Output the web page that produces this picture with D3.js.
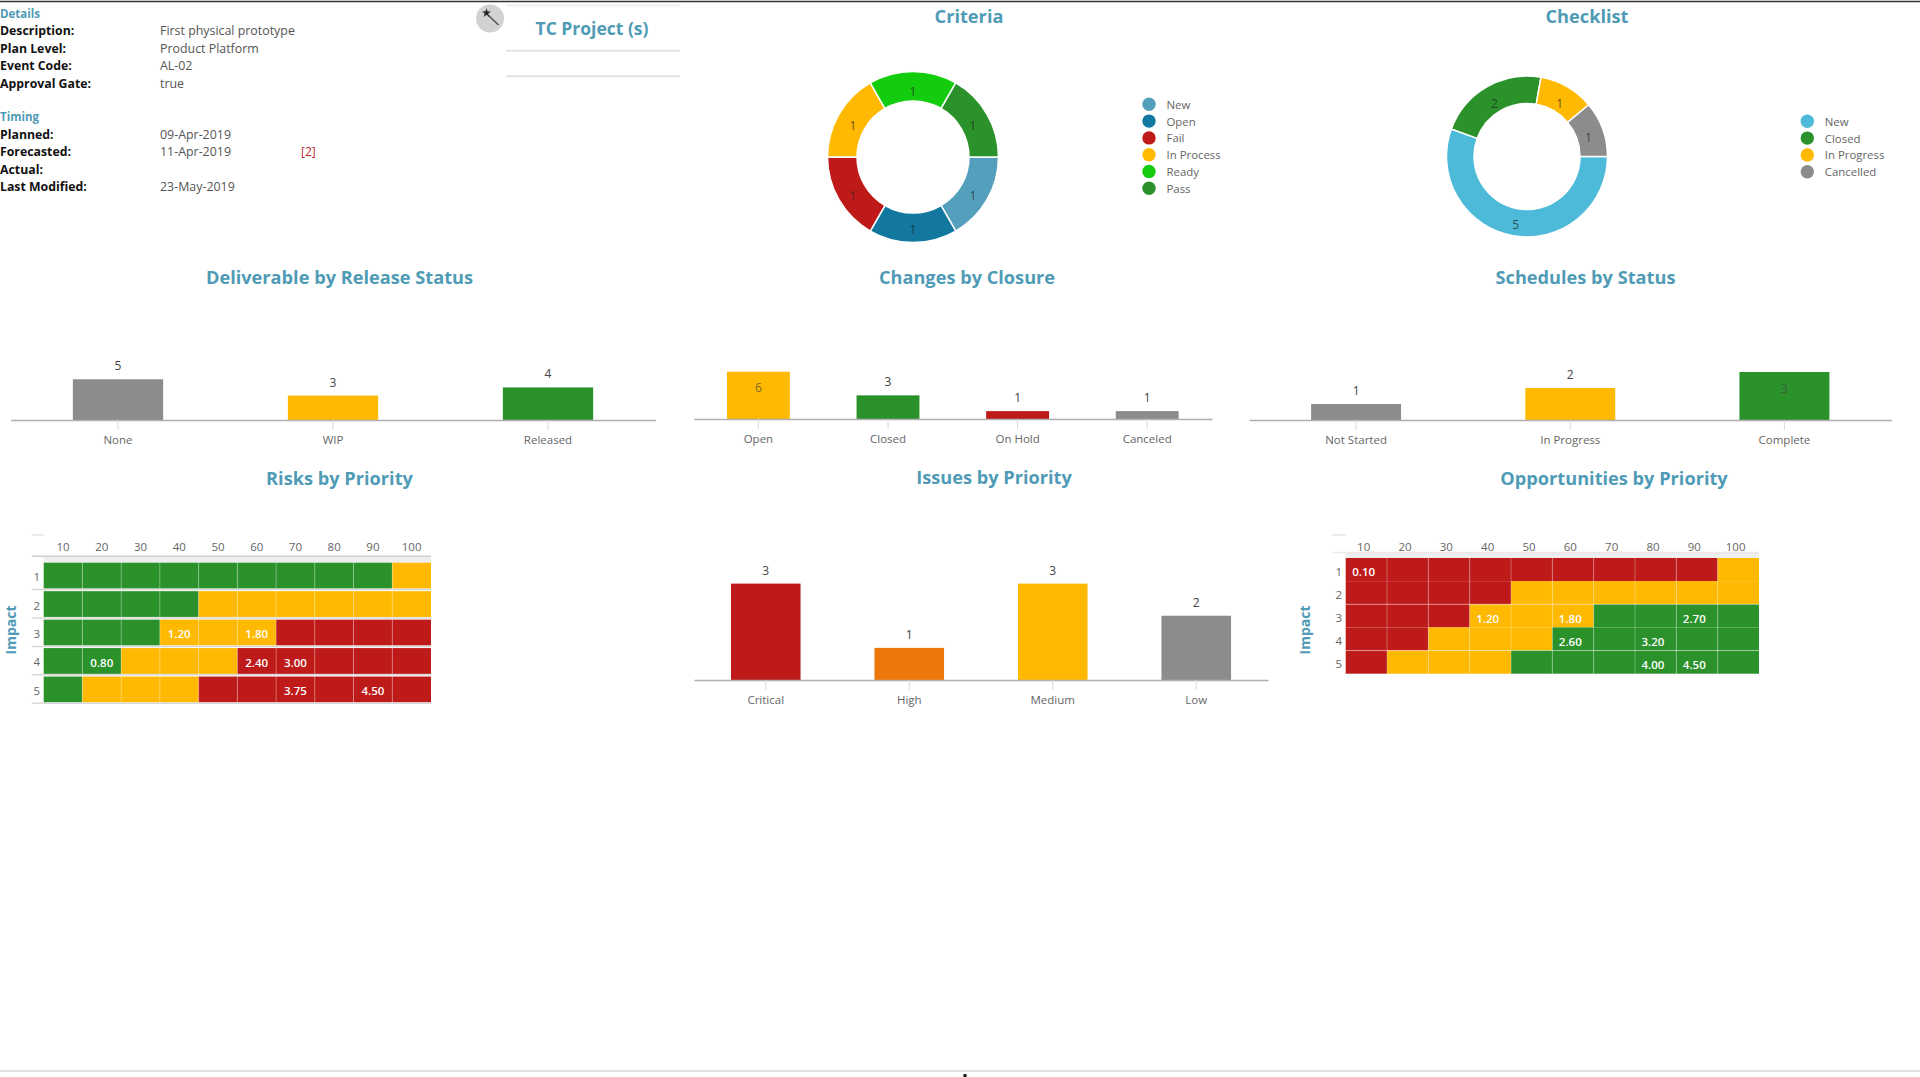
<!DOCTYPE html>
<html><head><meta charset="utf-8">
<script src="https://cdn.jsdelivr.net/npm/d3@7"></script>
<style>
html,body{margin:0;padding:0;background:#fff;overflow:hidden}
svg{display:block}
text{font-family:"Open Sans","Noto Sans",sans-serif}
</style></head><body>
<svg id="c" width="1920" height="1077"></svg>
<script>
// ---- data ----
const detailLabels = ["Description:","Plan Level:","Event Code:","Approval Gate:"];
const detailValues = ["First physical prototype","Product Platform","AL-02","true"];
const timingLabels = ["Planned:","Forecasted:","Actual:","Last Modified:"];
const timingValues = ["09-Apr-2019","11-Apr-2019","","23-May-2019"];
const criteriaCats = ["New","Open","Fail","In Process","Ready","Pass"];
const criteriaVals = [1,1,1,1,1,1];
const checklistCats = ["New","Closed","In Progress","Cancelled"];
const checklistVals = [5,2,1,1];
const deliverableCats = ["None","WIP","Released"];
const deliverableVals = [5,3,4];
const changesCats = ["Open","Closed","On Hold","Canceled"];
const changesVals = [6,3,1,1];
const scheduleCats = ["Not Started","In Progress","Complete"];
const scheduleVals = [1,2,3];
const issueCats = ["Critical","High","Medium","Low"];
const issueVals = [3,1,3,2];
const likelihoodTicks = [10,20,30,40,50,60,70,80,90,100];
const impactTicks = [1,2,3,4,5];
const riskGrid = [
 ["G","G","G","G","G","G","G","G","G","Y"],
 ["G","G","G","G","Y","Y","Y","Y","Y","Y"],
 ["G","G","G","Y","Y","Y","R","R","R","R"],
 ["G","G","Y","Y","Y","R","R","R","R","R"],
 ["G","Y","Y","Y","R","R","R","R","R","R"]];
const riskScores = [[3,40,"1.20"],[3,60,"1.80"],[4,20,"0.80"],[4,60,"2.40"],[4,70,"3.00"],[5,70,"3.75"],[5,90,"4.50"]];
const oppGrid = [
 ["R","R","R","R","R","R","R","R","R","Y"],
 ["R","R","R","R","Y","Y","Y","Y","Y","Y"],
 ["R","R","R","Y","Y","Y","G","G","G","G"],
 ["R","R","Y","Y","Y","G","G","G","G","G"],
 ["R","Y","Y","Y","G","G","G","G","G","G"]];
const oppScores = [[1,10,"0.10"],[3,40,"1.20"],[3,60,"1.80"],[3,90,"2.70"],[4,60,"2.60"],[4,80,"3.20"],[5,80,"4.00"],[5,90,"4.50"]];

// ---- palette ----
const TEAL="#4f9bb6", GREEN="#2b922b", AMBER="#ffb900", RED="#bf1a1a", GRAY="#8c8c8c", ORANGE="#ec770b";
const heat={G:GREEN,Y:AMBER,R:RED};
const criteriaColors=["#549fbc","#12789f",RED,AMBER,"#14cc0e",GREEN];
const checklistColors=["#4dbad9",GREEN,AMBER,GRAY];
const deliverableColors=[GRAY,AMBER,GREEN];
const changesColors=[AMBER,GREEN,RED,GRAY];
const scheduleColors=[GRAY,AMBER,GREEN];
const issueColors=[RED,ORANGE,AMBER,GRAY];

const svg=d3.select("#c");

// frame rules
svg.append("line").attr("x1",0).attr("x2",1920).attr("y1",1.5).attr("y2",1.5).attr("stroke","#333").attr("stroke-width",1.5);
svg.append("line").attr("x1",0).attr("x2",1920).attr("y1",1071).attr("y2",1071).attr("stroke","#d4d4d4").attr("stroke-width",1.5);
svg.append("circle").attr("cx",965).attr("cy",1075.5).attr("r",1.8).attr("fill","#222");

function title(t,x,y,size,weight){
  svg.append("text").attr("x",x).attr("y",y).attr("text-anchor","middle").attr("dominant-baseline","central")
   .attr("fill",TEAL).attr("font-size",size||18.2).attr("font-weight",weight||700).text(t);
}

// ---- detail block ----
function infoBlock(head,labels,values,y0){
  const step=17.55;
  svg.append("text").attr("x",0).attr("y",y0).attr("dominant-baseline","central").attr("fill",TEAL)
    .attr("font-size",11.5).attr("font-weight",700).text(head);
  labels.forEach((l,i)=>{
    const y=y0+step*(i+1);
    svg.append("text").attr("x",0).attr("y",y).attr("dominant-baseline","central").attr("fill","#111")
      .attr("font-size",12.3).attr("font-weight",700).text(l);
    svg.append("text").attr("x",160).attr("y",y).attr("dominant-baseline","central").attr("fill","#555")
      .attr("font-size",12.4).text(values[i]);
  });
}
infoBlock("Details",detailLabels,detailValues,13);
infoBlock("Timing",timingLabels,timingValues,116.5);
svg.append("text").attr("x",301).attr("y",151).attr("dominant-baseline","central").attr("fill","#c0272d").attr("font-size",12).text("[2]");

// wand button
svg.append("circle").attr("cx",490).attr("cy",18.5).attr("r",14).attr("fill","#d2d2d2");
svg.append("line").attr("x1",488.5).attr("y1",15.5).attr("x2",498.5).attr("y2",25).attr("stroke","#555").attr("stroke-width",1.6);
svg.append("path").attr("d",d3.symbol(d3.symbolStar,26)()).attr("transform","translate(486.5,13)").attr("fill","#222");

// TC panel
title("TC Project (s)",592,27.5,17.5);
[[5.5,"#efefef"],[50.7,"#e6e6e6"],[76.3,"#e0e0e0"]].forEach(([y,c])=>
  svg.append("line").attr("x1",506).attr("x2",680).attr("y1",y).attr("y2",y).attr("stroke",c).attr("stroke-width",2));

// ---- donuts ----
function donut(o){
  const g=svg.append("g").attr("transform",`translate(${o.cx},${o.cy})`);
  const pie=d3.pie().sort(null).startAngle(Math.PI/2).endAngle(Math.PI*2.5);
  const arc=d3.arc().innerRadius(o.r0).outerRadius(o.r1);
  const labelRadius=(o.r0+o.r1)/2-1.5;
  const labelArc=d3.arc().innerRadius(labelRadius).outerRadius(labelRadius);
  const arcs=pie(o.vals);
  g.selectAll("path").data(arcs).join("path").attr("d",arc).attr("fill",(d,i)=>o.colors[i])
    .attr("stroke","#fff").attr("stroke-width",1.5);
  g.selectAll("text").data(arcs).join("text").attr("transform",d=>{const p=labelArc.centroid(d);return `translate(${p[0]},${p[1]+3.5})`;})
    .attr("text-anchor","middle").attr("dominant-baseline","central").attr("font-size",12)
    .attr("fill","#222").attr("fill-opacity",.7).text(d=>d.data);
  const l=svg.append("g");
  const y=d3.scalePoint().domain(o.cats).range(o.legendY);
  o.cats.forEach((c,i)=>{
    l.append("circle").attr("cx",o.legendX).attr("cy",y(c)).attr("r",6.7).attr("fill",o.colors[i]);
    l.append("text").attr("x",o.legendX+17.5).attr("y",y(c)).attr("dominant-baseline","central")
      .attr("font-size",11.4).attr("fill","#666").text(c);
  });
}
title("Criteria",969,16);
donut({cx:913,cy:157,r0:56,r1:85.5,vals:criteriaVals,colors:criteriaColors,cats:criteriaCats,legendX:1149,legendY:[104.3,188.3]});
title("Checklist",1587,16);
donut({cx:1527,cy:156.5,r0:53,r1:80.5,vals:checklistVals,colors:checklistColors,cats:checklistCats,legendX:1807.3,legendY:[121.3,171.7]});

// ---- bars ----
function bars(o){
  const x=d3.scaleBand().domain(o.cats).range([o.x0,o.x1]).paddingInner(o.pad).paddingOuter(o.pad/2);
  const y=d3.scaleLinear().domain([0,d3.max(o.vals)]).range([o.base,o.base-o.h]);
  const g=svg.append("g");
  g.selectAll("rect").data(o.vals).join("rect")
    .attr("x",(d,i)=>x(o.cats[i])).attr("width",x.bandwidth())
    .attr("y",d=>y(d)).attr("height",d=>o.base-y(d)).attr("fill",(d,i)=>o.colors[i]);
  const ax=g.append("g").attr("transform",`translate(0,${o.base})`)
    .call(d3.axisBottom(x).tickSize(10).tickSizeOuter(0).tickPadding(5.5));
  ax.select(".domain").attr("stroke","#b0b0b4").attr("stroke-width",1.5);
  ax.selectAll(".tick line").attr("stroke","#d8d8de");
  ax.selectAll(".tick text").attr("font-size",11.5).attr("fill","#666").attr("font-family",'"Open Sans"');
  g.selectAll("text.v").data(o.vals).join("text").attr("class","v")
    .attr("x",(d,i)=>x(o.cats[i])+x.bandwidth()/2)
    .attr("y",d=>y(d)-13<o.labelLimit?y(d)+16:y(d)-13.5)
    .attr("text-anchor","middle").attr("dominant-baseline","central").attr("font-size",12)
    .attr("fill","#444").attr("fill-opacity",d=>y(d)-13<o.labelLimit?.7:1).text(d=>d);
}
title("Deliverable by Release Status",339.5,277);
bars({cats:deliverableCats,vals:deliverableVals,colors:deliverableColors,x0:10.5,x1:655.5,base:420,h:40.7,pad:.58,labelLimit:362});
title("Changes by Closure",967,277);
bars({cats:changesCats,vals:changesVals,colors:changesColors,x0:693.6,x1:1212,base:419,h:47.3,pad:.515,labelLimit:362});
title("Schedules by Status",1585.5,277);
bars({cats:scheduleCats,vals:scheduleVals,colors:scheduleColors,x0:1249,x1:1891.5,base:420,h:48,pad:.58,labelLimit:362});
title("Issues by Priority",994,476.5);
bars({cats:issueCats,vals:issueVals,colors:issueColors,x0:694,x1:1268,base:680,h:96.4,pad:.515,labelLimit:500});

// ---- heatmaps ----
function heatmap(o){
  const x=d3.scaleBand().domain(likelihoodTicks).range([o.x0,o.x1]);
  const y=d3.scaleBand().domain(impactTicks).range([o.y0,o.y1]).paddingInner(o.gap);
  const g=svg.append("g");
  // background chrome
  g.append("rect").attr("x",o.x0).attr("width",o.x1-o.x0).attr("y",o.y0-o.band).attr("height",o.band).attr("fill","#eeeeee");
  g.append("line").attr("x1",o.x0-o.stub).attr("x2",o.x0).attr("y1",535).attr("y2",535).attr("stroke","#e4e4e4").attr("stroke-width",1.5);
  g.append("line").attr("x1",o.x0-o.stub).attr("x2",o.x1).attr("y1",o.y0-o.band-.5).attr("y2",o.y0-o.band-.5).attr("stroke",o.topRule).attr("stroke-width",1.5);
  const cells=[];
  o.grid.forEach((row,r)=>row.forEach((lvl,c)=>cells.push({r:impactTicks[r],c:likelihoodTicks[c],lvl})));
  g.selectAll("rect.cell").data(cells).join("rect").attr("class","cell")
    .attr("x",d=>x(d.c)).attr("y",d=>y(d.r)).attr("width",x.bandwidth()).attr("height",y.bandwidth()).attr("fill",d=>heat[d.lvl]);
  // cell separators
  g.selectAll("line.vs").data(likelihoodTicks.slice(1)).join("line").attr("class","vs")
    .attr("x1",d=>x(d)).attr("x2",d=>x(d)).attr("y1",o.y0).attr("y2",o.y1)
    .attr("stroke","#fff").attr("stroke-opacity",.28);
  // row rules
  if(o.gap>0){
    g.selectAll("line.hs").data(impactTicks).join("line").attr("class","hs")
      .attr("x1",o.x0-o.stub).attr("x2",o.x1)
      .attr("y1",d=>y(d)+y.bandwidth()+1).attr("y2",d=>y(d)+y.bandwidth()+1)
      .attr("stroke","#d8d8d8").attr("stroke-width",1.5);
  } else {
    g.selectAll("line.hs").data(o.rules).join("line").attr("class","hs")
      .attr("x1",o.x0).attr("x2",o.x1).attr("y1",d=>y(d)).attr("y2",d=>y(d))
      .attr("stroke","#fff").attr("stroke-opacity",.4);
  }
  g.selectAll("text.xt").data(likelihoodTicks).join("text").attr("class","xt")
    .attr("x",d=>x(d)+x.bandwidth()/2+o.textDx).attr("y",o.xLabelY).attr("text-anchor","middle").attr("dominant-baseline","central")
    .attr("font-size",11.5).attr("fill","#666").text(d=>d);
  g.selectAll("text.yt").data(impactTicks).join("text").attr("class","yt")
    .attr("x",o.x0-7).attr("y",d=>y(d)+y.bandwidth()/2+o.rowDy).attr("text-anchor","middle").attr("dominant-baseline","central")
    .attr("font-size",11.5).attr("fill","#666").text(d=>d);
  g.selectAll("text.s").data(o.scores).join("text").attr("class","s")
    .attr("x",d=>x(d[1])+x.bandwidth()/2+o.textDx).attr("y",d=>y(d[0])+y.bandwidth()/2+o.scoreDy)
    .attr("text-anchor","middle").attr("dominant-baseline","central")
    .attr("font-size",11.5).attr("font-weight",600).attr("fill","#fff").text(d=>d[2]);
  g.append("text").attr("transform",`translate(${o.impactX},630) rotate(-90)`).attr("text-anchor","middle")
    .attr("dominant-baseline","central").attr("font-size",14).attr("font-weight",700).attr("fill",TEAL).text("Impact");
}
title("Risks by Priority",339.5,477.5);
heatmap({grid:riskGrid,scores:riskScores,x0:43.7,x1:431,y0:562.7,y1:702.3,gap:.095,band:6,stub:12,topRule:"#d0d0d0",xLabelY:546.7,impactX:10.5,textDx:0,rowDy:1,scoreDy:1.2});
title("Opportunities by Priority",1614,477.5);
heatmap({grid:oppGrid,scores:oppScores,x0:1345.7,x1:1759,y0:558,y1:673.7,gap:0,band:5,stub:13,topRule:"#f0e6e6",xLabelY:546,impactX:1304,textDx:-2.7,rowDy:1.5,scoreDy:2.2,rules:[3,5]});
</script>
</body></html>
